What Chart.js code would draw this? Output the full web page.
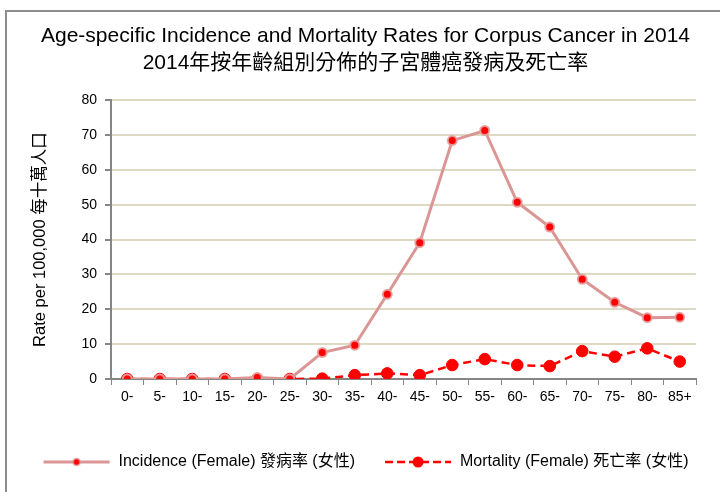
<!DOCTYPE html>
<html>
<head>
<meta charset="utf-8">
<script src="https://cdn.jsdelivr.net/npm/chart.js@4/dist/chart.umd.min.js"></script>
<style>
  html, body { margin: 0; padding: 0; background: #fff; }
  #wrap { position: relative; width: 720px; height: 492px; overflow: hidden; }
  #frame { position: absolute; left: 5px; top: 10px; width: 740px; height: 520px; border: 2px solid #8c8c8c; box-sizing: border-box; }
  #chart { position: absolute; left: 0; top: 0; }
</style>
</head>
<body>
<div id="wrap">
  <div id="frame"></div>
  <canvas id="chart" width="720" height="492"></canvas>
</div>
<script>
// age groups and rates per 100,000 (female)
ageGroups = ['0-', '5-', '10-', '15-', '20-', '25-', '30-', '35-', '40-', '45-', '50-', '55-', '60-', '65-', '70-', '75-', '80-', '85+']
incidence = [0, 0, 0, 0, 0.4, 0, 7.6, 9.7, 24.3, 39.1, 68.4, 71.3, 50.7, 43.6, 28.6, 22.0, 17.6, 17.7]
mortality = [0, 0, 0, 0, 0, 0, 0.1, 1.1, 1.6, 1.1, 4.0, 5.7, 4.0, 3.7, 8.0, 6.4, 8.8, 5.0]
yTicks = [0, 10, 20, 30, 40, 50, 60, 70, 80]

titleLines = ['Age-specific Incidence and Mortality Rates for Corpus Cancer in 2014', '2014年按年齡組別分佈的子宮體癌發病及死亡率']
yTitle = 'Rate per 100,000 每十萬人口'
seriesNames = ['Incidence (Female) 發病率 (女性)', 'Mortality (Female) 死亡率 (女性)']

var FONT = "'Liberation Sans', Arial, 'Noto Sans CJK TC', sans-serif"
var incColor = 'rgb(217, 150, 148)'
var incEdge = 'rgba(230, 160, 160, 0.9)'
var red = 'rgb(255, 0, 0)'

// small line+marker swatches for the legend
function swatch(color, width, dash, r, edge) {
  var c = document.createElement('canvas')
  c.width = 68; c.height = 14
  var g = c.getContext('2d')
  g.strokeStyle = color; g.lineWidth = width; g.setLineDash(dash)
  g.beginPath(); g.moveTo(1, 7); g.lineTo(67, 7); g.stroke()
  g.setLineDash([])
  g.fillStyle = red
  g.beginPath(); g.arc(34, 7, r, 0, Math.PI * 2); g.fill()
  if (edge) { g.strokeStyle = edge; g.lineWidth = 1.5; g.stroke() }
  return c
}
var legendIcons = [swatch(incColor, 3, [], 3.5, incEdge), swatch(red, 2.5, [8, 4], 5.5, null)]

chartdata = {
  labels: ageGroups,
  datasets: [{
    label: seriesNames[0],
    data: incidence,
    borderColor: incColor,
    borderWidth: 3,
    pointBackgroundColor: red,
    pointBorderColor: incEdge,
    pointBorderWidth: 2,
    pointRadius: 4.5,
    tension: 0
  }, {
    label: seriesNames[1],
    data: mortality,
    borderColor: red,
    borderWidth: 2.5,
    borderDash: [8, 5],
    pointBackgroundColor: red,
    pointBorderColor: red,
    pointBorderWidth: 1,
    pointRadius: 5.8,
    tension: 0
  }]
}

config = {
  type: 'line',
  data: chartdata,
  options: {
    responsive: false,
    animation: false,
    layout: { padding: { left: 11, right: 0, top: 12, bottom: 12 } },
    plugins: {
      title: {
        display: true,
        text: titleLines,
        color: '#000',
        font: { family: FONT, size: 21, weight: 'normal', lineHeight: 1.29 },
        padding: { top: 11, bottom: 23 }
      },
      legend: {
        position: 'bottom',
        labels: {
          color: '#000',
          font: { family: FONT, size: 16 },
          usePointStyle: true,
          pointStyleWidth: 68,
          padding: 29,
          boxHeight: 14,
          generateLabels: function(chart) {
            return chart.data.datasets.map(function(ds, i) {
              return { text: ds.label, pointStyle: legendIcons[i], datasetIndex: i, fillStyle: red, strokeStyle: red, lineWidth: 0, fontColor: '#000' }
            })
          }
        }
      },
      tooltip: { enabled: false }
    },
    scales: {
      x: {
        offset: true,
        afterFit: function(scale) { scale.height = 46 },
        grid: { offset: true, drawOnChartArea: false, drawTicks: true, tickLength: 6, color: '#868686' },
        border: { color: '#868686', width: 2 },
        ticks: { color: '#000', font: { family: FONT, size: 14 }, padding: 4, maxRotation: 0 }
      },
      y: {
        min: 0,
        max: 80,
        afterBuildTicks: function(scale) { scale.ticks = yTicks.map(function(v) { return { value: v } }) },
        afterFit: function(scale) { scale.width = 100 },
        grid: { color: 'rgb(221, 217, 195)', lineWidth: 2, tickLength: 6, tickColor: '#868686' },
        border: { color: '#868686', width: 2 },
        ticks: { color: '#000', font: { family: FONT, size: 14 }, padding: 8 },
        title: {
          display: true,
          text: yTitle,
          color: '#000',
          font: { family: FONT, size: 16.5 },
          padding: { top: 20, bottom: 8 }
        }
      },
      // empty right-hand spacer so the plot stops short of the frame
      yRight: {
        position: 'right',
        min: 0,
        max: 80,
        afterFit: function(scale) { scale.width = 24 },
        grid: { display: false },
        border: { display: false },
        ticks: { display: false }
      }
    }
  }
}

var myChart = new Chart(document.getElementById('chart'), config)
</script>
</body>
</html>
